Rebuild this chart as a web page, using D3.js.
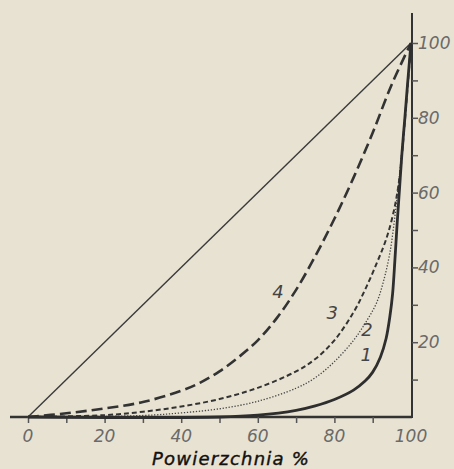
<!DOCTYPE html>
<html>
<head>
<meta charset="utf-8">
<script src="https://cdn.jsdelivr.net/npm/d3@7"></script>
<style>
  html, body { margin: 0; padding: 0; background: #e8e2d2; }
  svg { display: block; }
  .tick text, .lbl { font-family: "DejaVu Sans", sans-serif; font-style: italic; }
</style>
</head>
<body>
<script>
// curve values: x = powierzchnia %, y = %
const curve1 = [[0,0],[50,0],[60,0.5],[70,1.8],[75,3],[80,4.7],[85,7.2],[88,9.6],[90,12],[92,16],[93.5,21],[94.5,27],[95.2,33],[95.8,42],[96.4,52],[97,61],[97.6,70],[98.4,80],[99.1,89],[100,100]];
const curve2 = [[0,0],[30,0.4],[40,1.1],[50,2.2],[60,4.2],[70,7.7],[75,10.5],[80,14.8],[85,20.5],[88,25],[91,30.5],[93,37],[94.5,44],[95.6,52],[96.5,60],[97.5,70],[98.6,83],[100,100]];
const curve3 = [[0,0],[20,0.5],[30,1.4],[40,2.8],[50,4.8],[60,7.8],[70,12.2],[75,15.5],[80,20.5],[85,28],[88,34],[91,41],[93.5,47.5],[95.5,55],[97,64],[98.3,78],[100,100]];
const curve4 = [[0,0],[10,1],[20,2.3],[30,4],[40,7],[45,9.2],[50,12.2],[55,16],[60,20.5],[65,26.5],[70,34],[75,43],[80,53],[85,64],[90,76],[95,89],[100,100]];
const diagonal = [[0,0],[100,100]];
const curveLabels = [
  { text: "1", x: 88.3, y: 15 },
  { text: "2", x: 88.5, y: 21.7 },
  { text: "3", x: 79.4, y: 26.2 },
  { text: "4", x: 65.3, y: 31.8 }
];
const xTicks = d3.range(0, 100, 10);
const xLabels = [0, 20, 40, 60, 80, 100];
const yTicks = d3.range(10, 101, 10);
const xTitle = "Powierzchnia %";

const width = 454;
const height = 469;

const svg = d3.select("body").append("svg").attr("width", width).attr("height", height);

const xScale = d3.scaleLinear().domain([0, 100]).range([28, 411]);
const yScale = d3.scaleLinear().domain([0, 100]).range([417, 43]);

const line = d3.line()
  .x(d => xScale(d[0]))
  .y(d => yScale(d[1]))
  .curve(d3.curveCatmullRom.alpha(0.5));

// axes: own lines, d3 axes for the ticks
svg.append("line")
  .attr("x1", xScale(-4.7)).attr("x2", xScale(100) + 1)
  .attr("y1", yScale(0)).attr("y2", yScale(0))
  .attr("stroke", "#333").attr("stroke-width", 2.5);
svg.append("line")
  .attr("x1", xScale(100) + 1).attr("x2", xScale(100) + 1)
  .attr("y1", yScale(0) + 1).attr("y2", yScale(108))
  .attr("stroke", "#333").attr("stroke-width", 2);

const gx = svg.append("g")
  .attr("transform", "translate(0," + yScale(0) + ")")
  .call(d3.axisBottom(xScale).tickValues(xTicks).tickSize(6).tickFormat(""));
gx.select(".domain").remove();
gx.selectAll(".tick line").attr("stroke", "#555").attr("stroke-width", 1.5);

svg.append("g").selectAll("text")
  .data(xLabels)
  .join("text")
  .attr("class", "lbl")
  .attr("x", d => xScale(d))
  .attr("y", yScale(0) + 25)
  .attr("text-anchor", "middle")
  .attr("font-size", 17)
  .attr("fill", "#6a6a6a")
  .text(d => d);

const gy = svg.append("g")
  .attr("transform", "translate(" + (xScale(100) + 1) + ",0)")
  .call(d3.axisRight(yScale).tickValues(yTicks).tickSize(6).tickPadding(0)
    .tickFormat(d => d % 20 === 0 ? d : ""));
gy.select(".domain").remove();
gy.selectAll(".tick line").attr("stroke", "#555").attr("stroke-width", 1.5);
gy.selectAll(".tick text").attr("font-size", 17).attr("fill", "#6a6a6a");

// curves
svg.append("path").datum(diagonal)
  .attr("fill", "none").attr("stroke", "#3a3a3a").attr("stroke-width", 1.4)
  .attr("d", line);

svg.append("path").datum(curve4)
  .attr("fill", "none").attr("stroke", "#333").attr("stroke-width", 2.6)
  .attr("stroke-dasharray", "11,5")
  .attr("d", line);

svg.append("path").datum(curve3)
  .attr("fill", "none").attr("stroke", "#333").attr("stroke-width", 2)
  .attr("stroke-dasharray", "5,3")
  .attr("d", line);

svg.append("path").datum(curve2)
  .attr("fill", "none").attr("stroke", "#444").attr("stroke-width", 1.3)
  .attr("stroke-dasharray", "1.3,1.7")
  .attr("d", line);

svg.append("path").datum(curve1)
  .attr("fill", "none").attr("stroke", "#2e2e2e").attr("stroke-width", 2.8)
  .attr("d", line);

svg.append("g").selectAll("text")
  .data(curveLabels)
  .join("text")
  .attr("class", "lbl")
  .attr("x", d => xScale(d.x))
  .attr("y", d => yScale(d.y))
  .attr("text-anchor", "middle")
  .attr("font-size", 18)
  .attr("fill", "#444")
  .text(d => d.text);

svg.append("text")
  .attr("class", "lbl")
  .attr("x", 231)
  .attr("y", 465)
  .attr("text-anchor", "middle")
  .attr("font-size", 18)
  .attr("letter-spacing", 1.2)
  .attr("fill", "#111")
  .attr("stroke", "#111")
  .attr("stroke-width", 0.4)
  .text(xTitle);
</script>
</body>
</html>
